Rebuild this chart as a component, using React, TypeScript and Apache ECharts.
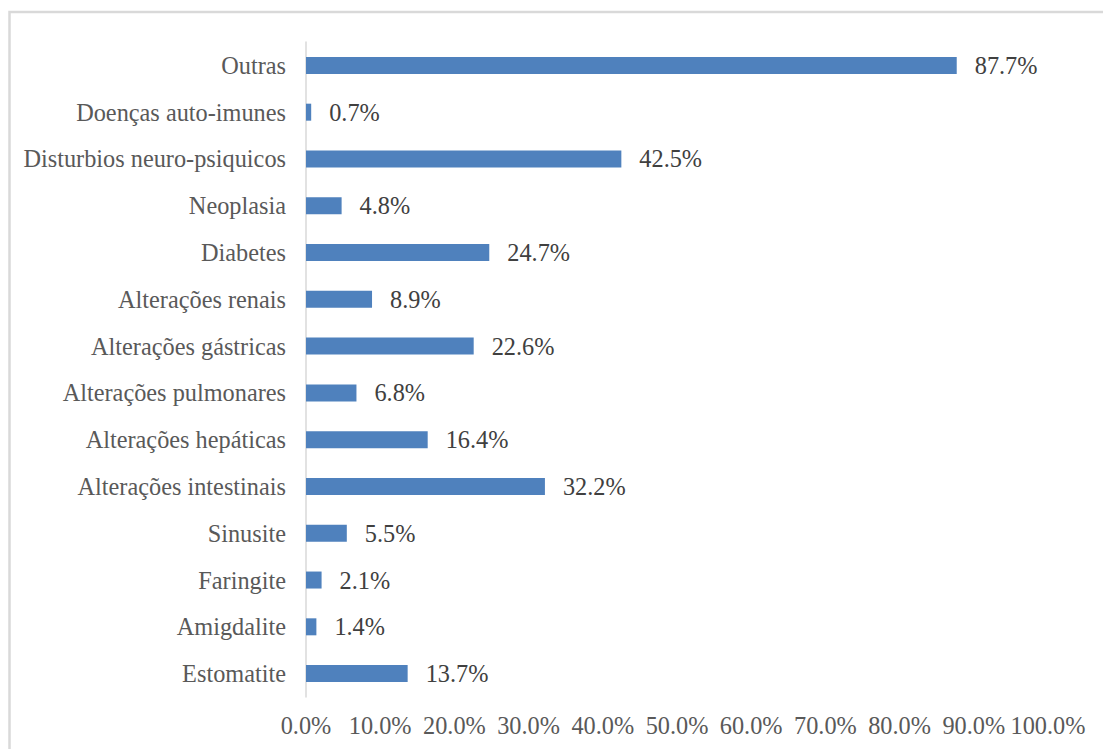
import React, { useEffect, useRef } from "react";
import * as echarts from "echarts";

const categories = [
  "Estomatite",
  "Amigdalite",
  "Faringite",
  "Sinusite",
  "Alterações intestinais",
  "Alterações hepáticas",
  "Alterações pulmonares",
  "Alterações gástricas",
  "Alterações renais",
  "Diabetes",
  "Neoplasia",
  "Disturbios neuro-psiquicos",
  "Doenças auto-imunes",
  "Outras",
];
const values = [13.7, 1.4, 2.1, 5.5, 32.2, 16.4, 6.8, 22.6, 8.9, 24.7, 4.8, 42.5, 0.7, 87.7];

const FONT = "Liberation Serif";
const FS = 24.3;

export default function App() {
  const ref = useRef<HTMLDivElement>(null);
  useEffect(() => {
    if (!ref.current) return;
    const chart = echarts.init(ref.current, null, { renderer: "svg" });
    chart.setOption({
      animation: false,
      backgroundColor: "#ffffff",
      textStyle: { fontFamily: FONT },
      graphic: [
        {
          type: "rect",
          shape: { x: 9.5, y: 12, width: 1200, height: 800 },
          style: { fill: "none", stroke: "#d9d9d9", lineWidth: 2.5 },
          silent: true,
        },
      ],
      grid: { left: 306, right: 55, top: 42, bottom: 52, containLabel: false },
      xAxis: {
        type: "value",
        min: 0,
        max: 100,
        interval: 10,
        axisLine: { show: false },
        axisTick: { show: false },
        splitLine: { show: false },
        axisLabel: {
          formatter: (v: number) => v.toFixed(1) + "%",
          fontFamily: FONT,
          fontSize: FS,
          color: "#595959",
          margin: 16,
        },
      },
      yAxis: {
        type: "category",
        data: categories,
        axisLine: { show: true, lineStyle: { color: "#d9d9d9", width: 1.5 } },
        axisTick: { show: false },
        splitLine: { show: false },
        axisLabel: {
          fontFamily: FONT,
          fontSize: FS,
          color: "#595959",
          margin: 20,
        },
      },
      series: [
        {
          type: "bar",
          data: values,
          barWidth: 17,
          itemStyle: { color: "#4f81bd" },
          label: {
            show: true,
            position: "right",
            distance: 18,
            formatter: (p: any) => p.value.toFixed(1) + "%",
            fontFamily: FONT,
            fontSize: FS,
            color: "#404040",
          },
        },
      ],
    });
    return () => chart.dispose();
  }, []);
  return (
    <div
      ref={ref}
      style={{ position: "fixed", left: 0, top: 0, width: 1103, height: 749 }}
    />
  );
}
